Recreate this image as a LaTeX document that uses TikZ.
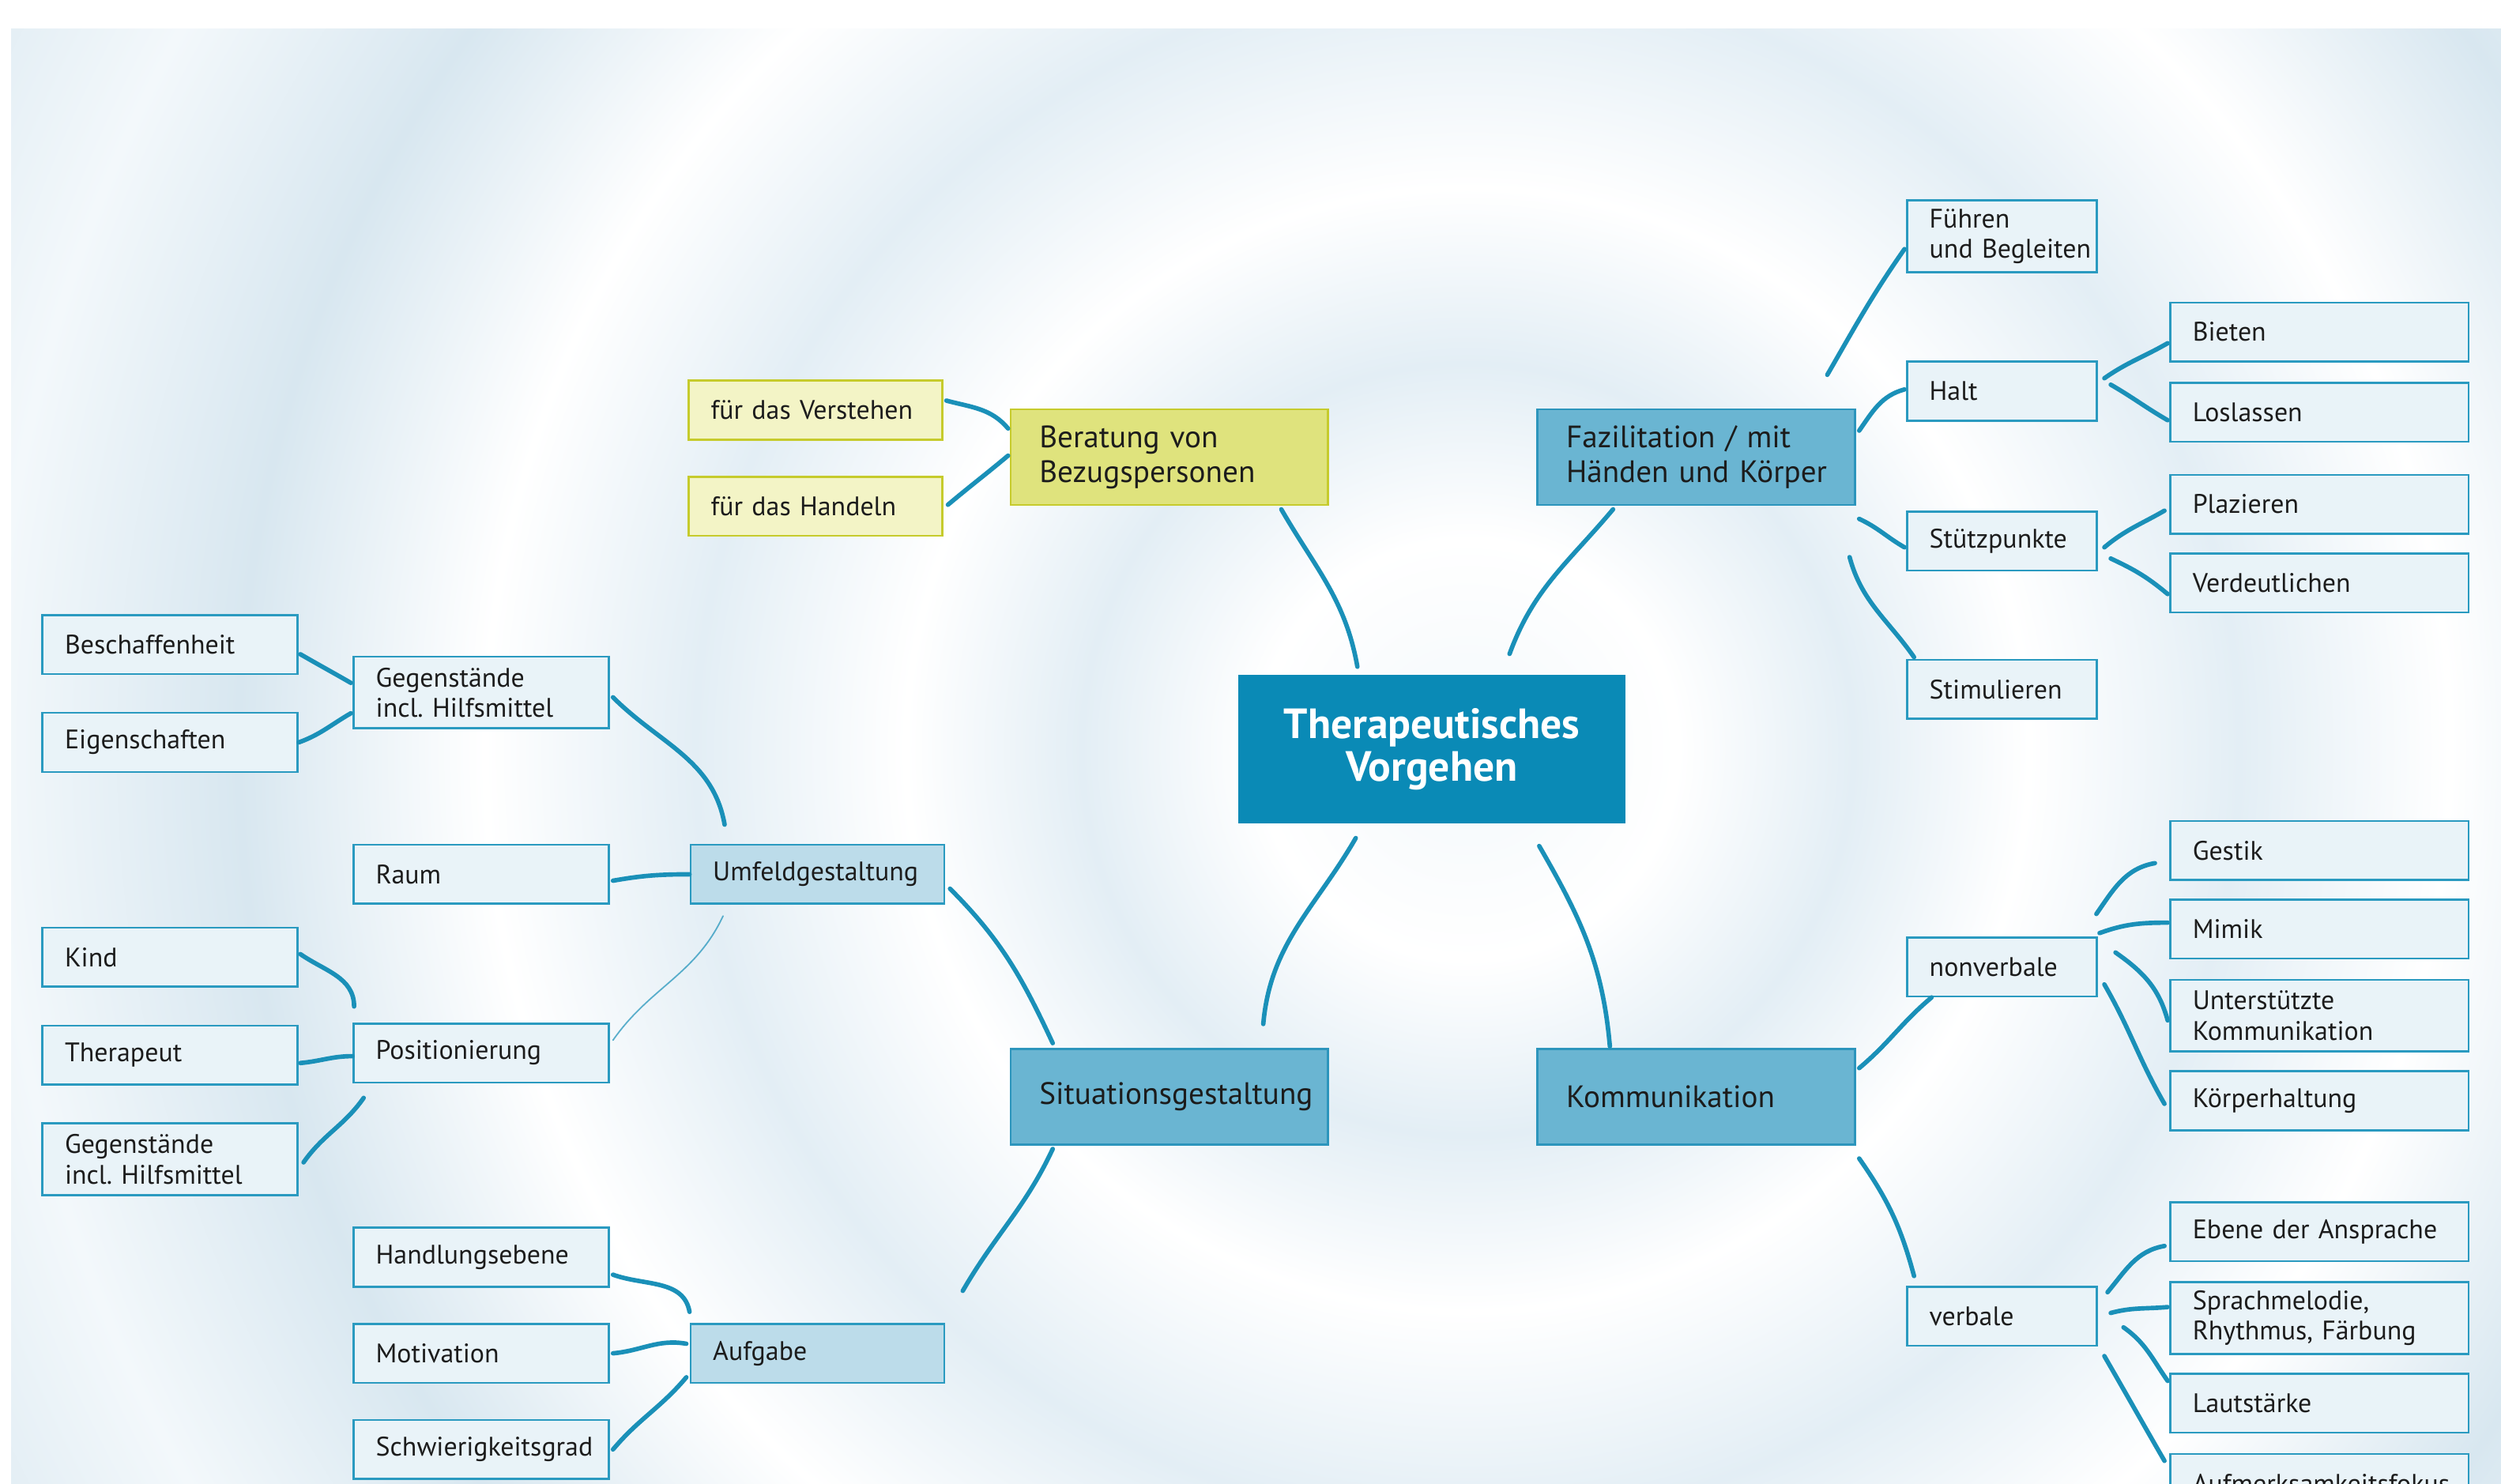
\documentclass[tikz,border=0pt]{standalone}
\usepackage{fontspec}
\setmainfont{PT Sans}
\usetikzlibrary{positioning,backgrounds}
\definecolor{bgblue}{HTML}{CDE2EE}
\definecolor{ringA}{HTML}{E3EEF5}
\definecolor{ringB}{HTML}{D8E7F0}
\definecolor{ringC}{HTML}{EAF2F7}
\definecolor{ringD}{HTML}{F3F8FB}
\definecolor{twigcol}{HTML}{1A90B8}
\definecolor{leafline}{HTML}{2A9AC0}
\definecolor{leaffill}{HTML}{E9F3F8}
\definecolor{subfill}{HTML}{BCDCEA}
\definecolor{mainfill}{HTML}{6AB5D2}
\definecolor{mainline}{HTML}{2C95BC}
\definecolor{corefill}{HTML}{0A8AB6}
\definecolor{yfill}{HTML}{DFE37D}
\definecolor{yline}{HTML}{C6CB2C}
\definecolor{ylight}{HTML}{F3F4C6}
\definecolor{txt}{HTML}{1C1C1C}
\pgfdeclareradialshading{ripple}{\pgfpoint{0bp}{0bp}}{%
  color(0bp)=(ringD); color(3bp)=(white); color(5.5bp)=(ringA); color(8bp)=(white);
  color(11bp)=(ringA); color(14bp)=(white); color(17.5bp)=(ringB); color(21bp)=(ringD);
  color(25bp)=(ringB); color(28bp)=(ringC); color(33bp)=(bgblue); color(50bp)=(bgblue)}

\begin{document}
\begin{tikzpicture}[x=1pt, y=1pt, node distance=12pt,
  leaf/.style={draw=leafline, fill=leaffill, line width=1.3pt, text=txt, align=left, anchor=north west,
    text width=#1, inner xsep=0pt, inner ysep=2pt, minimum height=37pt,
    font=\fontsize{16.8}{19}\selectfont, execute at begin node={\leftskip=14pt}},
  leaf/.default=160pt,
  two/.style={minimum height=45pt},
  sub/.style={leaf=159pt, fill=subfill},
  tip/.style={leaf=159pt, fill=ylight, draw=yline},
  main/.style={leaf=199pt, fill=mainfill, draw=mainline, minimum height=60pt,
    font=\fontsize{19.4}{22}\selectfont, execute at begin node={\leftskip=18pt}},
  core/.style={fill=corefill, text=white, align=center, text width=243pt, inner xsep=0pt,
    minimum height=93pt, anchor=north west, font=\fontsize{26.5}{27}\selectfont\bfseries},
  twig/.style={draw=twigcol, line width=2.8pt, line cap=round}]
\useasboundingbox (0,0) rectangle (1568,-930);
\node[core] (ctr) at (776,-423) {Therapeutisches\\Vorgehen};
\node[main, fill=yfill, draw=yline] (berat) at (633,-256) {Beratung von\\Bezugspersonen};
\node[main, right=130pt of berat] (fazil) {Fazilitation / mit\\Händen und Körper};
\node[main] (situ) at (633,-657) {Situationsgestaltung};
\node[main, right=130pt of situ] (komm) {Kommunikation};
% Beratung
\node[tip] (verst) at (431,-238) {für das Verstehen};
\node[tip, below=22pt of verst] (handeln) {für das Handeln};
% Fazilitation
\node[leaf=119pt, two] (fuehren) at (1195,-125) {Führen\\und~Begleiten};
\node[leaf=119pt] (halt) at (1195,-226) {Halt};
\node[leaf=119pt] (stuetz) at (1195,-320) {Stützpunkte};
\node[leaf=119pt] (stimul) at (1195,-413) {Stimulieren};
\node[leaf=187pt] (bieten) at (1360,-189) {Bieten};
\node[leaf=187pt, below=of bieten] (loslassen) {Loslassen};
\node[leaf=187pt] (plaz) at (1360,-297) {Plazieren};
\node[leaf=187pt, below=11pt of plaz] (verdeut) {Verdeutlichen};
% Kommunikation
\node[leaf=119pt] (nonverb) at (1195,-587) {nonverbale};
\node[leaf=119pt] (verb) at (1195,-806) {verbale};
\node[leaf=187pt] (gestik) at (1360,-514) {Gestik};
\node[leaf=187pt, below=11pt of gestik] (mimik) {Mimik};
\node[leaf=187pt, two, below=of mimik] (unterst) {Unterstützte\\Kommunikation};
\node[leaf=187pt, below=11pt of unterst] (koerper) {Körperhaltung};
\node[leaf=187pt] (ebene) at (1360,-753) {Ebene der Ansprache};
\node[leaf=187pt, two, below=of ebene] (sprach) {Sprachmelodie,\\Rhythmus, Färbung};
\node[leaf=187pt, below=11pt of sprach] (laut) {Lautstärke};
\node[leaf=187pt, below=of laut] (aufmerk) {Aufmerksamkeitsfokus};
% Situationsgestaltung
\node[leaf, two] (gegen) at (221,-411) {Gegenstände\\incl.~Hilfsmittel};
\node[leaf] (raum) at (221,-529) {Raum};
\node[leaf] (posit) at (221,-641) {Positionierung};
\node[leaf] (handl) at (221,-769) {Handlungsebene};
\node[leaf, below=22pt of handl] (motiv) {Motivation};
\node[leaf, below=22pt of motiv] (schwier) {Schwierigkeitsgrad};
\node[sub, right=50pt of raum] (umfeld) {Umfeldgestaltung};
\node[sub, right=50pt of motiv] (aufgabe) {Aufgabe};
\node[leaf] (beschaff) at (26,-385) {Beschaffenheit};
\node[leaf, below=23pt of beschaff] (eigensch) {Eigenschaften};
\node[leaf] (kind) at (26,-581) {Kind};
\node[leaf, below=23pt of kind] (therap) {Therapeut};
\node[leaf, two, below=23pt of therap] (gegenk) {Gegenstände\\incl.~Hilfsmittel};
% branches
\draw[twig] ([shift={(-30,-2)}]berat.south east) to[out=-60,in=100] ([shift={(75,5)}]ctr.north west);
\draw[twig] ([shift={(48,-2)}]fazil.south west) to[out=-130,in=70] ([shift={(-73,13)}]ctr.north east);
\draw[twig] ([shift={(74,-9)}]ctr.south west) to[out=-120,in=85] ([shift={(159,15)}]situ.north west);
\draw[twig] ([shift={(189,-14)}]ctr.south west) to[out=-60,in=95] ([shift={(46,1)}]komm.north west);
\draw[twig] ([shift={(-1,18)}]berat.west) to[out=130,in=-15] ([shift={(2,6)}]verst.east);
\draw[twig] ([shift={(-1,1)}]berat.west) to[out=-140,in=40] ([shift={(3,1)}]handeln.east);
\draw[twig] ([shift={(-18,21)}]fazil.north east) to[out=60,in=-125] ([shift={(-1,-8)}]fuehren.west);
\draw[twig] ([shift={(2,-14)}]fazil.north east) to[out=55,in=-165] ([shift={(-1,1)}]halt.west);
\draw[twig] ([shift={(2,-8)}]fazil.south east) to[out=-25,in=150] ([shift={(-1,-4)}]stuetz.west);
\draw[twig] ([shift={(-4,-32)}]fazil.south east) to[out=-75,in=125] ([shift={(5,1)}]stimul.north west);
\draw[twig] ([shift={(4,8)}]halt.east) to[out=35,in=-150] ([shift={(-1,-7)}]bieten.west);
\draw[twig] ([shift={(8,4)}]halt.east) to[out=-30,in=150] ([shift={(-1,-5)}]loslassen.west);
\draw[twig] ([shift={(4,-4)}]stuetz.east) to[out=40,in=-150] ([shift={(-3,-4)}]plaz.west);
\draw[twig] ([shift={(8,-11)}]stuetz.east) to[out=-25,in=140] ([shift={(-1,-7)}]verdeut.west);
\draw[twig] ([shift={(2,18)}]komm.east) to[out=40,in=-140] ([shift={(16,0)}]nonverb.south west);
\draw[twig] ([shift={(2,-8)}]komm.south east) to[out=-55,in=105] ([shift={(5,6)}]verb.north west);
\draw[twig] ([shift={(-1,14)}]nonverb.north east) to[out=55,in=190] ([shift={(-9,-8)}]gestik.west);
\draw[twig] ([shift={(1,2)}]nonverb.north east) to[out=20,in=180] ([shift={(-1,4)}]mimik.west);
\draw[twig] ([shift={(11,9)}]nonverb.east) to[out=-35,in=105] ([shift={(-1,-3)}]unterst.west);
\draw[twig] ([shift={(4,-11)}]nonverb.east) to[out=-60,in=120] ([shift={(-3,-2)}]koerper.west);
\draw[twig] ([shift={(6,15)}]verb.east) to[out=50,in=190] ([shift={(-3,-9)}]ebene.west);
\draw[twig] ([shift={(8,2)}]verb.east) to[out=15,in=185] ([shift={(-1,7)}]sprach.west);
\draw[twig] ([shift={(16,-7)}]verb.east) to[out=-35,in=125] ([shift={(-1,14)}]laut.west);
\draw[twig] ([shift={(4,-25)}]verb.east) to[out=-60,in=120] ([shift={(-3,-5)}]aufmerk.north west);
\draw[twig] ([shift={(27,3)}]situ.north west) to[out=115,in=-45] ([shift={(3,-9)}]umfeld.east);
\draw[twig] ([shift={(27,-2)}]situ.south west) to[out=-115,in=60] ([shift={(11,20)}]aufgabe.north east);
\draw[twig] ([shift={(22,12)}]umfeld.north west) to[out=100,in=-45] ([shift={(2,-3)}]gegen.east);
\draw[twig] (umfeld.west) to[out=180,in=10] ([shift={(2,-4)}]raum.east);
\draw[twig, line width=0.9pt, draw opacity=0.7] ([shift={(21,-7)}]umfeld.south west) to[out=-115,in=55] ([shift={(2,8)}]posit.east);
\draw[twig] ([shift={(-1,6)}]gegen.west) to[out=150,in=-30] ([shift={(1,-6)}]beschaff.east);
\draw[twig] ([shift={(-1,-13)}]gegen.west) to[out=-150,in=20] (eigensch.east);
\draw[twig] ([shift={(1,10)}]posit.north west) to[out=90,in=-35] ([shift={(1,2)}]kind.east);
\draw[twig] ([shift={(0,-2)}]posit.west) to[out=180,in=5] ([shift={(1,-5)}]therap.east);
\draw[twig] ([shift={(7,-9)}]posit.south west) to[out=-125,in=55] ([shift={(3,-2)}]gegenk.east);
\draw[twig] ([shift={(0,26)}]aufgabe.west) to[out=100,in=-20] ([shift={(2,-11)}]handl.east);
\draw[twig] ([shift={(-2,6)}]aufgabe.west) to[out=170,in=5] ([shift={(2,0)}]motiv.east);
\draw[twig] ([shift={(-2,-15)}]aufgabe.west) to[out=-130,in=50] ([shift={(2,0)}]schwier.east);
\begin{scope}[on background layer]
  \fill[bgblue] (7,-18) rectangle (1568,-930);
  \clip (7,-18) rectangle (1568,-930);
  \shade[shading=ripple] (920,-470) circle (1100pt);
\end{scope}
\end{tikzpicture}
\end{document}
